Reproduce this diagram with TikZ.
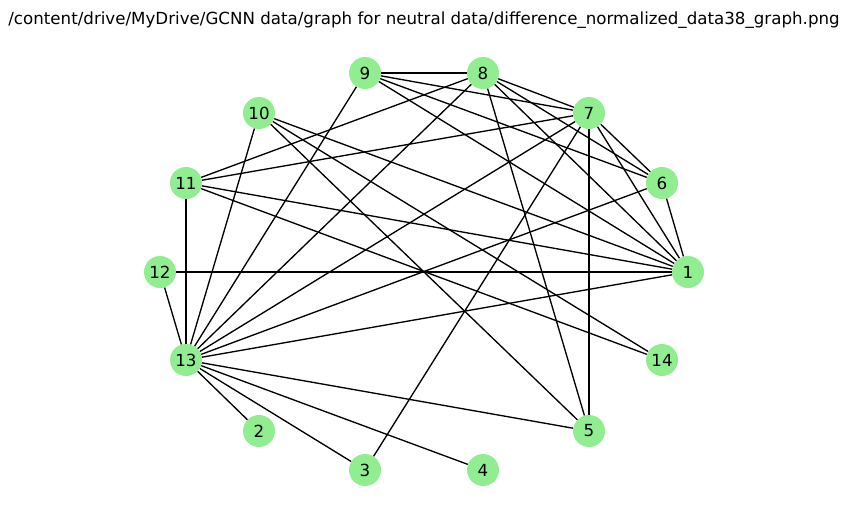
\documentclass[tikz,border=0pt]{standalone}
\usepackage{fontspec}
\setmainfont{DejaVu Sans}
\usepackage{xcolor}
\usepackage{tikz}
\usetikzlibrary{positioning}
\definecolor{nodegreen}{HTML}{90EE90}

\begin{document}
\begin{tikzpicture}[x=0.75pt, y=-0.75pt,
  vtx/.style={circle, fill=nodegreen, minimum size=24pt, inner sep=0pt, font=\fontsize{12.5}{15}\selectfont},
  edge/.style={line width=1pt, black}]
\useasboundingbox (0,0) rectangle (848,522);
\node[font=\fontsize{12.5}{15}\selectfont] (title) at (424,20) {/content/drive/MyDrive/GCNN data/graph for neutral data/difference\_normalized\_data38\_graph.png};
% nodes on the circle
\node[vtx] (n1) at (688,272) {1};
\node[vtx] (n6) at (662,183) {6};
\node[vtx] (n7) at (589,113) {7};
\node[vtx] (n8) at (483,73) {8};
\node[vtx] (n9) at (365,73) {9};
\node[vtx] (n10) at (259,113) {10};
\node[vtx] (n11) at (186,183) {11};
\node[vtx] (n12) at (160,272) {12};
\node[vtx] (n13) at (186,360) {13};
\node[vtx] (n2) at (259,431) {2};
\node[vtx] (n3) at (365,470) {3};
\node[vtx] (n4) at (483,470) {4};
\node[vtx] (n5) at (589,431) {5};
\node[vtx] (n14) at (662,360) {14};
% edges
\foreach \a/\b in {9/8, 9/7, 9/6, 9/1, 9/13,
  8/7, 8/6, 8/1, 8/5, 8/11, 8/13,
  7/6, 7/1, 7/5, 7/3, 7/11, 7/13,
  6/1, 6/13,
  10/1, 10/14, 10/5, 10/13,
  11/1, 11/14, 11/13,
  12/1, 12/13,
  13/1, 13/2, 13/3, 13/4, 13/5}
  \draw[edge] (n\a) -- (n\b);
\end{tikzpicture}
\end{document}
